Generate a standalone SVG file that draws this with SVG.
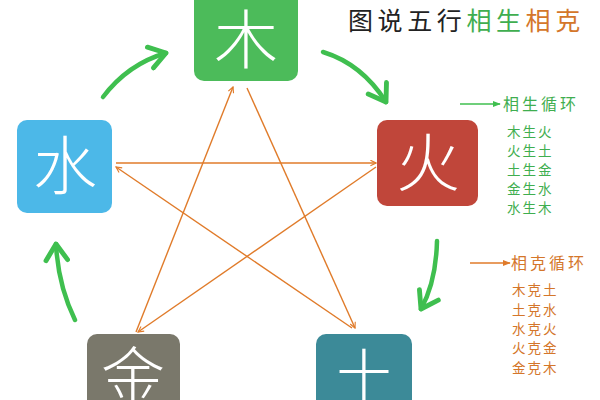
<svg xmlns="http://www.w3.org/2000/svg" width="600" height="400" viewBox="0 0 600 400">
<defs>
<marker id="oa" viewBox="0 0 10 10" refX="9" refY="5" markerWidth="7" markerHeight="7" markerUnits="userSpaceOnUse" orient="auto">
<path d="M1,1 L9,5 L1,9" fill="none" stroke="#e07b2a" stroke-width="1.6"/>
</marker>
<marker id="ga" viewBox="0 0 10 10" refX="8" refY="5" markerWidth="6" markerHeight="6" orient="auto">
<path d="M2,1 L8,5 L2,9" fill="none" stroke="#3fbf4f" stroke-width="1.8" stroke-linecap="round" stroke-linejoin="round"/>
</marker>
<marker id="oa2" viewBox="0 0 10 10" refX="9" refY="5" markerWidth="8" markerHeight="8" markerUnits="userSpaceOnUse" orient="auto">
<path d="M0,1 L10,5 L0,9 Z" fill="#e07b2a"/>
</marker>
<marker id="ga2" viewBox="0 0 10 10" refX="9" refY="5" markerWidth="8" markerHeight="8" markerUnits="userSpaceOnUse" orient="auto">
<path d="M0,1 L10,5 L0,9 Z" fill="#3fbf4f"/>
</marker>
</defs>
<style>
.el{font-family:"Noto Sans CJK SC","Noto Sans CJK JP",sans-serif;font-size:64px;fill:#fff;text-anchor:middle;font-weight:300}
.star{stroke:#e07b2a;stroke-width:1.4;fill:none}
.cyc{stroke:#3fbf4f;stroke-width:4.5;fill:none;stroke-linecap:round}
.t{font-family:"Noto Sans CJK SC","Noto Sans CJK JP",sans-serif}
.g{fill:#3fae4f}
.o{fill:#d4762a}
</style>
<rect width="600" height="400" fill="#fff"/>
<g id="connectors">
<line class="star" x1="247" y1="88" x2="355" y2="328" marker-end="url(#oa)"/>
<line class="star" x1="352" y1="328" x2="116" y2="167" marker-end="url(#oa)"/>
<line class="star" x1="116" y1="163" x2="376" y2="163" marker-end="url(#oa)"/>
<line class="star" x1="376" y1="167" x2="138" y2="332" marker-end="url(#oa)"/>
<line class="star" x1="136" y1="332" x2="233" y2="87" marker-end="url(#oa)"/>
<path class="cyc" d="M103,97 Q128,64 166,53" marker-end="url(#ga)"/>
<path class="cyc" d="M323,52 Q362,64 386,102" marker-end="url(#ga)"/>
<path class="cyc" d="M437,241 Q436,282 421,309" marker-end="url(#ga)"/>
<path class="cyc" d="M75,320 Q58,285 56,244" marker-end="url(#ga)"/>
</g>
<g id="wood">
<rect x="194" y="-12" width="104" height="93" rx="10" fill="#4cbb5a"/>
<text class="el" x="246" y="63">木</text>
</g>
<g id="fire">
<rect x="377" y="120" width="101" height="86" rx="10" fill="#c0463a"/>
<text class="el" x="428" y="186">火</text>
</g>
<g id="earth">
<rect x="316" y="334" width="96" height="80" rx="10" fill="#3c8a98"/>
<text class="el" x="364" y="402">土</text>
</g>
<g id="metal">
<rect x="87" y="334" width="93" height="80" rx="10" fill="#7a786b"/>
<text class="el" x="133" y="400">金</text>
</g>
<g id="water">
<rect x="17" y="120" width="95" height="93" rx="10" fill="#4cb8e8"/>
<text class="el" x="65" y="189">水</text>
</g>
<g id="title">
<text class="t" x="348" y="30" font-size="25" letter-spacing="4.6"><tspan fill="#222">图说五行</tspan><tspan class="g">相生</tspan><tspan class="o">相克</tspan></text>
</g>
<g id="legend-sheng">
<line x1="460" y1="104" x2="500" y2="104" stroke="#3fbf4f" stroke-width="1.5" marker-end="url(#ga2)"/>
<text class="t g" x="503" y="110" font-size="16" letter-spacing="3">相生循环</text>
<g class="t g" font-size="13.5" letter-spacing="2">
<text x="507" y="137">木生火</text>
<text x="507" y="156">火生土</text>
<text x="507" y="175">土生金</text>
<text x="507" y="194">金生水</text>
<text x="507" y="213">水生木</text>
</g>
</g>
<g id="legend-ke">
<line x1="470" y1="263" x2="510" y2="263" stroke="#e07b2a" stroke-width="1.5" marker-end="url(#oa2)"/>
<text class="t o" x="511" y="269" font-size="16" letter-spacing="3">相克循环</text>
<g class="t o" font-size="13.5" letter-spacing="2">
<text x="512" y="295">木克土</text>
<text x="512" y="315">土克水</text>
<text x="512" y="334">水克火</text>
<text x="512" y="353">火克金</text>
<text x="512" y="373">金克木</text>
</g>
</g>
</svg>
